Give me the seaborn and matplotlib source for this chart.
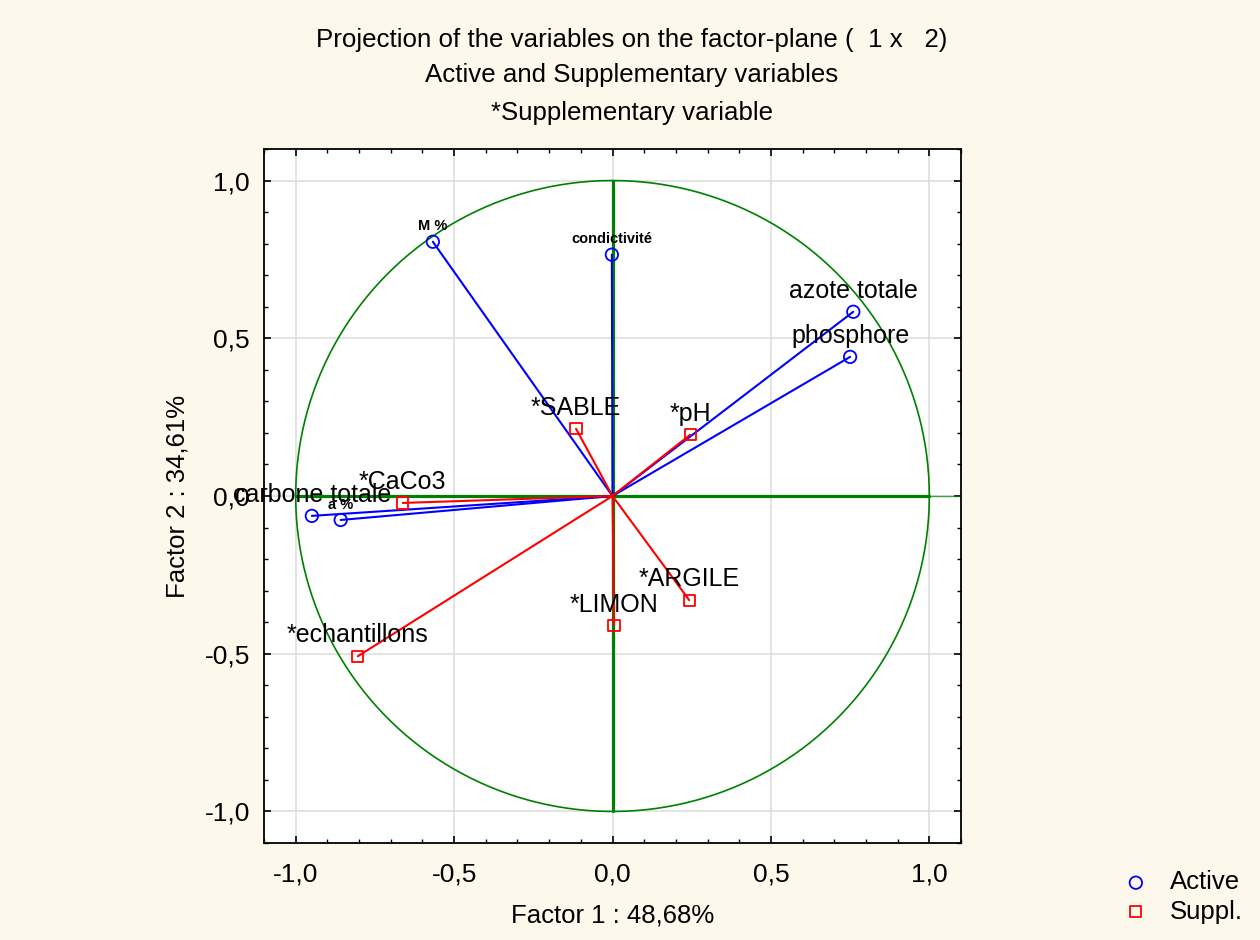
import numpy as np
import pandas as pd
import matplotlib
matplotlib.use("Agg")
import matplotlib.pyplot as plt
import seaborn as sns
from matplotlib.ticker import MultipleLocator, FuncFormatter

# ---- data ----
active_names = ["M %", "condictivité", "azote totale", "phosphore", "carbone totale", "a %"]
active_f1 = [-0.567, -0.002, 0.760, 0.750, -0.949, -0.858]
active_f2 = [0.806, 0.765, 0.584, 0.441, -0.063, -0.076]

suppl_names = ["*SABLE", "*pH", "*CaCo3", "*ARGILE", "*LIMON", "*echantillons"]
suppl_f1 = [-0.115, 0.245, -0.662, 0.242, 0.005, -0.804]
suppl_f2 = [0.213, 0.194, -0.022, -0.330, -0.410, -0.508]

small_bold = ["M %", "condictivité", "a %"]

x_ticks = [-1.0, -0.5, 0.0, 0.5, 1.0]
y_ticks = [-1.0, -0.5, 0.0, 0.5, 1.0]

title_lines = ["Projection of the variables on the factor-plane (  1 x   2)",
               "Active and Supplementary variables",
               "*Supplementary variable"]
xlabel = "Factor 1 : 48,68%"
ylabel = "Factor 2 : 34,61%"

df_act = pd.DataFrame({"f1": active_f1, "f2": active_f2, "name": active_names})
df_sup = pd.DataFrame({"f1": suppl_f1, "f2": suppl_f2, "name": suppl_names})

sns.set_theme(style="white")
plt.rcParams["font.family"] = ["Liberation Sans", "DejaVu Sans"]
plt.rcParams["text.color"] = "black"
plt.rcParams["axes.labelcolor"] = "black"
plt.rcParams["xtick.color"] = "black"
plt.rcParams["ytick.color"] = "black"

BG = "#fdf8ec"
GREEN = "#008000"
BLUE = "#0000ff"
RED = "#ff0000"

fig = plt.figure(figsize=(12.6, 9.4), dpi=100, facecolor=BG)
ax = fig.add_axes([264 / 1260, 1 - 843 / 940, (961 - 264) / 1260, (843 - 149) / 940])
ax.set_facecolor("white")

ax.set_xlim(-1.1, 1.1)
ax.set_ylim(-1.1, 1.1)

# grid
for v in x_ticks:
    ax.axvline(v, color="#dcdcdc", lw=1.1, zorder=0)
for v in y_ticks:
    ax.axhline(v, color="#dcdcdc", lw=1.1, zorder=0)

# unit circle and axes lines
t = np.linspace(0, 2 * np.pi, 400)
ax.plot(np.cos(t), np.sin(t), color=GREEN, lw=1.2, zorder=1)
ax.plot([-1, 1], [0, 0], color=GREEN, lw=2.3, zorder=1)
ax.plot([1, 1.1], [0, 0], color=GREEN, lw=1.0, alpha=0.7, zorder=1)
ax.plot([0, 0], [-1, 1], color=GREEN, lw=2.3, zorder=1)

# vectors
for x, y in zip(active_f1, active_f2):
    ax.plot([0, x], [0, y], color=BLUE, lw=1.5, zorder=2)
for x, y in zip(suppl_f1, suppl_f2):
    ax.plot([0, x], [0, y], color=RED, lw=1.5, zorder=2)

sns.scatterplot(data=df_act, x="f1", y="f2", marker="o", s=80, facecolor="none",
                edgecolor=BLUE, linewidth=1.3, ax=ax, zorder=3, label="Active", legend=False)
sns.scatterplot(data=df_sup, x="f1", y="f2", marker="s", s=65, facecolor="none",
                edgecolor=RED, linewidth=1.3, ax=ax, zorder=3, label="Suppl.", legend=False)

# labels
for _, r in pd.concat([df_act, df_sup]).iterrows():
    if r["name"] in small_bold:
        ax.annotate(r["name"], (r["f1"], r["f2"]), xytext=(0, 11), textcoords="offset points",
                    ha="center", va="center", fontsize=10.5, fontweight="bold", color="black",
                    zorder=4)
    else:
        ax.annotate(r["name"], (r["f1"], r["f2"]), xytext=(0, 15), textcoords="offset points",
                    ha="center", va="center", fontsize=18, color="black", zorder=4)

# ticks
ax.xaxis.set_major_locator(MultipleLocator(0.5))
ax.yaxis.set_major_locator(MultipleLocator(0.5))
ax.xaxis.set_minor_locator(MultipleLocator(0.1))
ax.yaxis.set_minor_locator(MultipleLocator(0.1))
fmt = FuncFormatter(lambda v, p: f"{v:.1f}".replace(".", ",").replace("-0,0", "0,0"))
ax.xaxis.set_major_formatter(fmt)
ax.yaxis.set_major_formatter(fmt)
ax.tick_params(which="both", direction="in", top=True, right=True, bottom=True, left=True,
               color="black", labelcolor="black")
ax.tick_params(which="major", length=5, width=1.2, labelsize=19)
ax.tick_params(axis="x", which="major", pad=14)
ax.tick_params(axis="y", which="major", pad=10)
ax.tick_params(which="minor", length=3, width=1)
for s in ax.spines.values():
    s.set_color("black")
    s.set_linewidth(1.3)

ax.set_xlabel(xlabel, fontsize=18.5, labelpad=12, color="black")
ax.set_ylabel(ylabel, fontsize=18.5, labelpad=11, color="black")

# title
for yy, line in zip([40, 75, 113], title_lines):
    fig.text(632 / 1260, 1 - yy / 940, line, ha="center", va="center", fontsize=18.6,
             color="black")

# legend
h, l = ax.get_legend_handles_labels()
leg = fig.legend(h, l, loc="center left", bbox_to_anchor=(1123 / 1260, 1 - 897 / 940),
                 frameon=False, fontsize=18.5, handlelength=1.0, handletextpad=0.83,
                 labelspacing=0.2, markerscale=1.0, borderpad=0, borderaxespad=0)
for txt in leg.get_texts():
    txt.set_color("black")

fig.savefig("out.png", dpi=100, facecolor=BG)
